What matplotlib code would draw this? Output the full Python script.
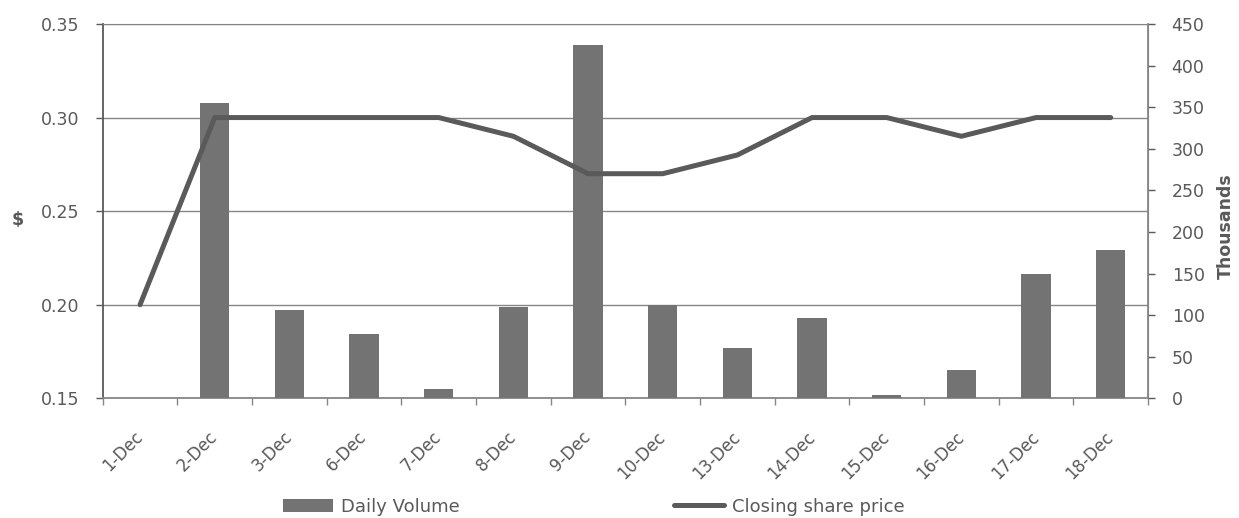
import matplotlib
matplotlib.use("Agg")
import matplotlib.pyplot as plt
import numpy as np

# data
dates = ["1-Dec", "2-Dec", "3-Dec", "6-Dec", "7-Dec", "8-Dec", "9-Dec",
         "10-Dec", "13-Dec", "14-Dec", "15-Dec", "16-Dec", "17-Dec", "18-Dec"]
volume_k = [0, 355, 106, 77, 11, 110, 425, 112, 60, 97, 4, 34, 150, 178]
close_price = [0.20, 0.30, 0.30, 0.30, 0.30, 0.29, 0.27, 0.27, 0.28, 0.30, 0.30, 0.29, 0.30, 0.30]

text_col = "#595959"
axis_col = "#868686"
bar_col = "#737373"
line_col = "#5a5a5a"

plt.rcParams["font.family"] = "DejaVu Sans"

fig = plt.figure(figsize=(12.39, 5.18), dpi=100)
ax = fig.add_axes([0.0829, 0.2311, 0.8437, 0.7226])
ax_vol = ax.twinx()
ax_line = ax.twinx()

x = np.arange(len(dates))

# left axis: price scale + gridlines
ax.set_xlim(-0.5, len(dates) - 0.5)
ax.set_ylim(0.15, 0.35)
ax.set_yticks([0.15, 0.20, 0.25, 0.30, 0.35])
ax.set_yticklabels(["0.15", "0.20", "0.25", "0.30", "0.35"])
ax.grid(axis="y", color=axis_col, linewidth=1.0)
ax.set_axisbelow(True)
ax.set_ylabel("$", fontsize=12.5, fontweight="bold", color=text_col, rotation=0,
              ha="center", va="center")
ax.yaxis.set_label_coords(-0.081, 0.476)
ax.tick_params(axis="y", labelsize=12.5, colors=text_col, length=5, width=1, pad=11.5)

# x axis: labels at centres, tick marks at category boundaries
ax.set_xticks(x)
ax.set_xticklabels(dates, rotation=45, ha="right", va="center", rotation_mode="anchor")
ax.tick_params(axis="x", length=0, labelsize=12, colors=text_col, pad=26)
ax.set_xticks(np.arange(-0.5, len(dates) + 0.5, 1), minor=True)
ax.tick_params(axis="x", which="minor", length=5, color=axis_col, width=1)

for name, sp in ax.spines.items():
    sp.set_color(axis_col)
ax.spines["left"].set_color(text_col)
ax.spines["left"].set_linewidth(1.3)
ax.spines["bottom"].set_linewidth(1.3)

# right axis: volume bars
bars = ax_vol.bar(x, volume_k, width=0.39, color=bar_col, label="Daily Volume", zorder=2)
ax_vol.set_ylim(0, 450)
ax_vol.set_yticks(np.arange(0, 451, 50))
ax_vol.tick_params(axis="y", labelsize=12.5, colors=text_col, length=5, width=1, pad=12)
ax_vol.set_ylabel("Thousands", fontsize=12.5, fontweight="bold", color=text_col,
                  ha="center", va="center")
ax_vol.yaxis.set_label_coords(1.074, 0.46)
for sp in ax_vol.spines.values():
    sp.set_visible(False)
ax_vol.spines["right"].set_visible(True)
ax_vol.spines["right"].set_color(axis_col)
ax_vol.spines["right"].set_linewidth(1.3)

# price line on top, same scale as left axis
line, = ax_line.plot(x, close_price, color=line_col, linewidth=3.6,
                     solid_capstyle="round", solid_joinstyle="round",
                     label="Closing share price")
ax_line.set_ylim(ax.get_ylim())
ax_line.axis("off")

fig.legend(handles=[bars, line], labels=["Daily Volume", "Closing share price"],
           loc="center", bbox_to_anchor=(0.479, 0.022), ncol=2, frameon=False,
           fontsize=13, handlelength=2.77, handletextpad=0.45, columnspacing=11.86,
           labelcolor=text_col)

fig.savefig("out.png", dpi=100)
